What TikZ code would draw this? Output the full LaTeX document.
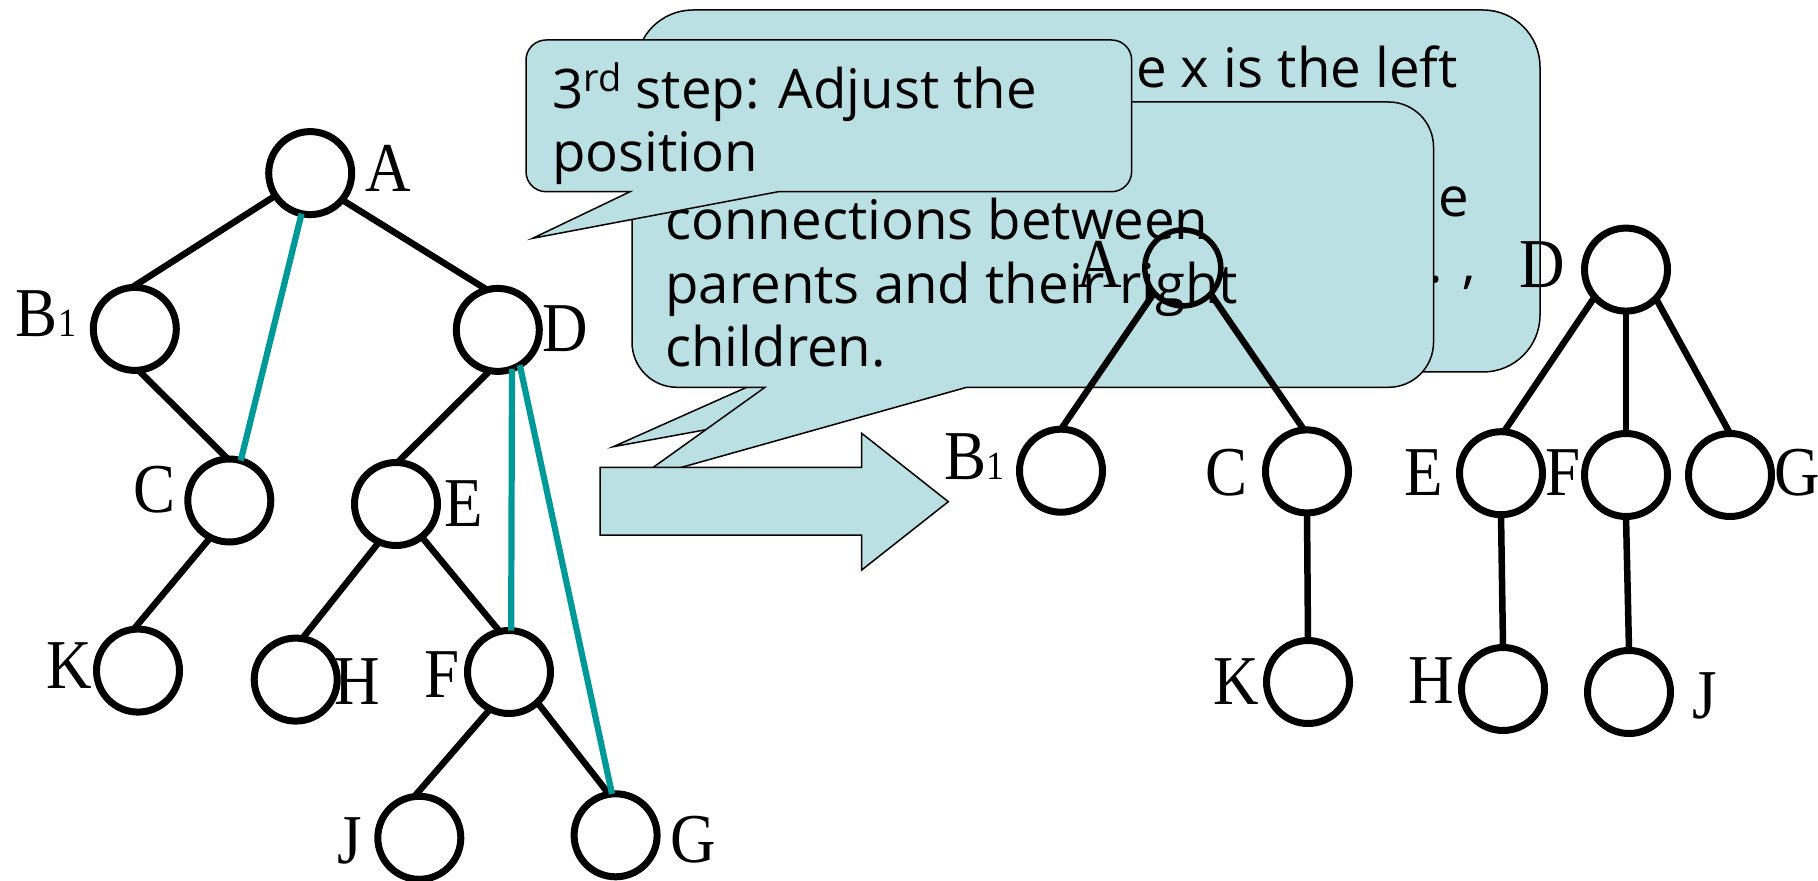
\documentclass[tikz,border=0pt]{standalone}
\usepackage{fontspec}
\newfontfamily\callfont{Open Sans}
\newfontfamily\lblfont[FakeStretch=0.9]{Liberation Serif}
\definecolor{callfill}{RGB}{186,224,227}
\definecolor{linkteal}{RGB}{0,153,153}

\begin{document}
\begin{tikzpicture}[x=0.5pt,y=-0.5pt,
  vtx/.style={circle,draw=black,line width=3.5pt,minimum size=41.5pt,inner sep=0pt,outer sep=0pt},
  topvtx/.style={vtx,line width=2.75pt,minimum size=38pt},
  lbl/.style={inner sep=0pt,font=\lblfont\fontsize{35pt}{35pt}\selectfont},
  blackedge/.style={line width=3.25pt,draw=black},
  tealedge/.style={line width=3.1pt,draw=linkteal},
  callout/.style={fill=callfill,draw=black,line width=0.75pt,line join=miter},
  ctext/.style={inner sep=0pt,anchor=base west,font=\callfont\fontsize{27.3pt}{32pt}\selectfont},
  cfrag/.style={ctext,anchor=base east},
  ]
\useasboundingbox (0,0) rectangle (1818,881);

% ---------- binary tree (left) ----------
\node[vtx] (A)  at (310.2,173.1) {};
\node[vtx] (B1) at (134.8,328.9) {};
\node[vtx] (D)  at (497.8,329.9) {};
\node[vtx] (C)  at (229.3,500.5) {};
\node[vtx] (E)  at (396.0,504.0) {};
\node[vtx] (K)  at (138.0,670.6) {};
\node[vtx] (H)  at (295.7,679.6) {};
\node[vtx] (F)  at (509.0,672.0) {};
\node[vtx] (J)  at (419.3,837.8) {};
\node[vtx] (G)  at (615.6,835.3) {};

\draw[blackedge] (A.213) -- (B1.94);
\draw[blackedge] (A.320) -- (D.105);
\draw[blackedge] (B1.275) -- (C.92);
\draw[blackedge] (D.259) -- (E.88);
\draw[blackedge] (C.243) -- (K.96);
\draw[blackedge] (E.246) -- (H.81);
\draw[blackedge] (E.308) -- (F.103);
\draw[blackedge] (F.243) -- (J.97);
\draw[blackedge] (F.313) -- (G.99);
\draw[tealedge] (A.258) -- (C.74);
\draw[tealedge] (D.290) -- (F.87);
\draw[tealedge] (D.302) -- (G.95);

\node[lbl] (lA)  at (388,168.4) {A};
\node[lbl] (lB1) at (46,313.8) {B{\fontsize{20pt}{20pt}\selectfont 1}};
\node[lbl] (lD)  at (565,328.7) {D};
\node[lbl] (lC)  at (155,489.4) {C};
\node[lbl] (lE)  at (464,504) {E};
\node[lbl] (lK)  at (69,665.8) {K};
\node[lbl] (lH)  at (357.5,682) {H};
\node[lbl] (lF)  at (442.3,674.6) {F};
\node[lbl] (lJ)  at (350,841) {J};
\node[lbl] (lG)  at (693,840) {G};

% ---------- first callout (back) ----------
\draw[callout] (693,10) -- (1483,10)
  .. controls (1514.5,10) and (1540,35.5) .. (1540,67) -- (1540,315)
  .. controls (1540,346.5) and (1514.5,372) .. (1483,372)
  -- (1021,372) -- (613.3,446.7) -- (781,372) -- (693,372)
  .. controls (661.5,372) and (636,346.5) .. (636,315) -- (636,67)
  .. controls (636,35.5) and (661.5,10) .. (693,10) -- cycle;
\node[cfrag] (s1a) at (1458,88) {e x is the left};
\node[cfrag] (s1b) at (1469,216.5) {the};
\node[cfrag] (s1c) at (1476,283) {... ,};

% ---------- second callout (middle) ----------
\draw[callout] (677,102) -- (1388.5,102)
  .. controls (1413.4,102) and (1433.5,122.1) .. (1433.5,147) -- (1433.5,342.3)
  .. controls (1433.5,367.2) and (1413.4,387.3) .. (1388.5,387.3)
  -- (966.7,387.3) -- (635,480.4) -- (765,387.3) -- (677,387.3)
  .. controls (652.1,387.3) and (632,367.2) .. (632,342.3) -- (632,147)
  .. controls (632,122.1) and (652.1,102) .. (677,102) -- cycle;
\node[ctext] (s2a) at (665,240) {connections between};
\node[ctext] (s2b) at (665,303.5) {parents and their right};
\node[ctext] (s2c) at (665,367) {children.};

% ---------- block arrow ----------
\draw[callout] (600,467.3) -- (861.7,467.3) -- (861.7,433.3) -- (948.3,501.7)
  -- (861.7,570) -- (861.7,535) -- (600,535) -- cycle;

% ---------- third callout (front) ----------
\draw[callout] (546,40) -- (1111.6,40)
  .. controls (1122.6,40) and (1131.6,49) .. (1131.6,60) -- (1131.6,171.7)
  .. controls (1131.6,182.7) and (1122.6,191.7) .. (1111.6,191.7)
  -- (778.3,191.7) -- (532.7,238.3) -- (630,191.7) -- (546,191.7)
  .. controls (535,191.7) and (526,182.7) .. (526,171.7) -- (526,60)
  .. controls (526,49) and (535,40) .. (546,40) -- cycle;
\node[ctext] (s3a) at (552,108.5)
  {3\raisebox{8.3pt}{\fontsize{19pt}{19pt}\selectfont rd} step: Adjust the};
\node[ctext] (s3b) at (552,171.7) {position};

% ---------- resulting forest (right) ----------
\node[topvtx] (rA) at (1182.8,267.9) {};
\node[vtx] (rD)  at (1626,269.6) {};
\node[vtx] (rB1) at (1061,470.7) {};
\node[vtx] (rC)  at (1307,471.4) {};
\node[vtx] (rE)  at (1501,473.2) {};
\node[vtx] (rF)  at (1626,475) {};
\node[vtx] (rG)  at (1730,475) {};
\node[vtx] (rK)  at (1308,682) {};
\node[vtx] (rH)  at (1503,689) {};
\node[vtx] (rJ)  at (1629,692) {};

\draw[blackedge] (rA.221) -- (rB1.90);
\draw[blackedge] (rA.317) -- (rC.94);
\draw[blackedge] (rD.221) -- (rE.86);
\draw[blackedge] (rD.south) -- (rF.north);
\draw[blackedge] (rD.316) -- (rG.90);
\draw[blackedge] (rC.south) -- (rK.north);
\draw[blackedge] (rE.south) -- (rH.north);
\draw[blackedge] (rF.south) -- (rJ.north);

\node[lbl] (rlA)  at (1099,264) {A};
\node[lbl] (rlD)  at (1542.6,265) {D};
\node[lbl] (rlB1) at (974.6,457) {B{\fontsize{20pt}{20pt}\selectfont 1}};
\node[lbl] (rlC)  at (1226,473) {C};
\node[lbl] (rlE)  at (1424,473) {E};
\node[lbl] (rlF)  at (1563,473) {F};
\node[lbl] (rlG)  at (1797,473) {G};
\node[lbl] (rlK)  at (1236.6,682) {K};
\node[lbl] (rlH)  at (1431,681) {H};
\node[lbl] (rlJ)  at (1705,696) {J};
\end{tikzpicture}
\end{document}
